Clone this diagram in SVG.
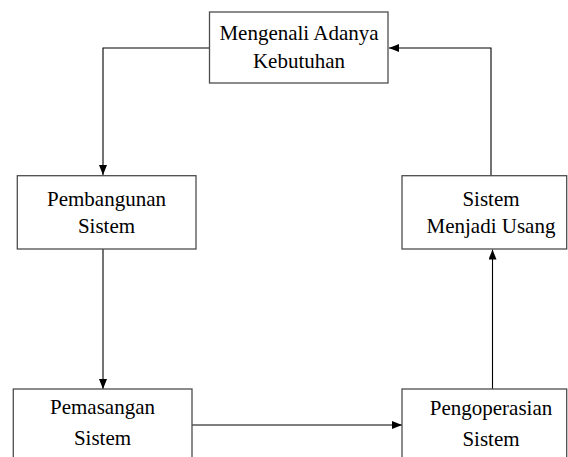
<svg xmlns="http://www.w3.org/2000/svg" width="568" height="457" viewBox="0 0 568 457">
<style>
.box{fill:#fff;stroke:#4d4d4d;stroke-width:1.3}
.t{font-family:"Times New Roman",Times,"Liberation Serif","DejaVu Serif",serif;font-size:21px;fill:#000;text-anchor:middle}
.c{fill:none;stroke:#000;stroke-width:1.1}
</style>
<defs>
<marker id="ah" viewBox="0 0 10 8" refX="10" refY="4" markerWidth="10" markerHeight="8" markerUnits="userSpaceOnUse" orient="auto">
<path d="M0,0 L10,4 L0,8 Z" fill="#000"/>
</marker>
</defs>
<rect width="568" height="457" fill="#fff"/>
<g id="connectors">
<path class="c" d="M209.5,48 H103 V175" marker-end="url(#ah)"/>
<path class="c" d="M103,249 V389" marker-end="url(#ah)"/>
<path class="c" d="M192,425 H402" marker-end="url(#ah)"/>
<path class="c" d="M492.5,389 V249.5" marker-end="url(#ah)"/>
<path class="c" d="M491,175.7 V48 H389" marker-end="url(#ah)"/>
</g>
<g id="mengenali">
<rect class="box" x="209.5" y="12" width="178.5" height="71"/>
<text class="t" x="299" y="40">Mengenali Adanya</text>
<text class="t" x="299" y="68">Kebutuhan</text>
</g>
<g id="pembangunan">
<rect class="box" x="17.3" y="175.7" width="178.7" height="73.3"/>
<text class="t" x="106.5" y="206">Pembangunan</text>
<text class="t" x="106.5" y="233">Sistem</text>
</g>
<g id="usang">
<rect class="box" x="402" y="175.7" width="164.7" height="73.3"/>
<text class="t" x="491" y="206">Sistem</text>
<text class="t" x="491" y="233">Menjadi Usang</text>
</g>
<g id="pemasangan">
<rect class="box" x="13.3" y="389" width="178.7" height="80"/>
<text class="t" x="102.5" y="414">Pemasangan</text>
<text class="t" x="102.5" y="445">Sistem</text>
</g>
<g id="pengoperasian">
<rect class="box" x="402" y="389" width="164.7" height="80"/>
<text class="t" x="491" y="415">Pengoperasian</text>
<text class="t" x="491" y="446">Sistem</text>
</g>
</svg>
